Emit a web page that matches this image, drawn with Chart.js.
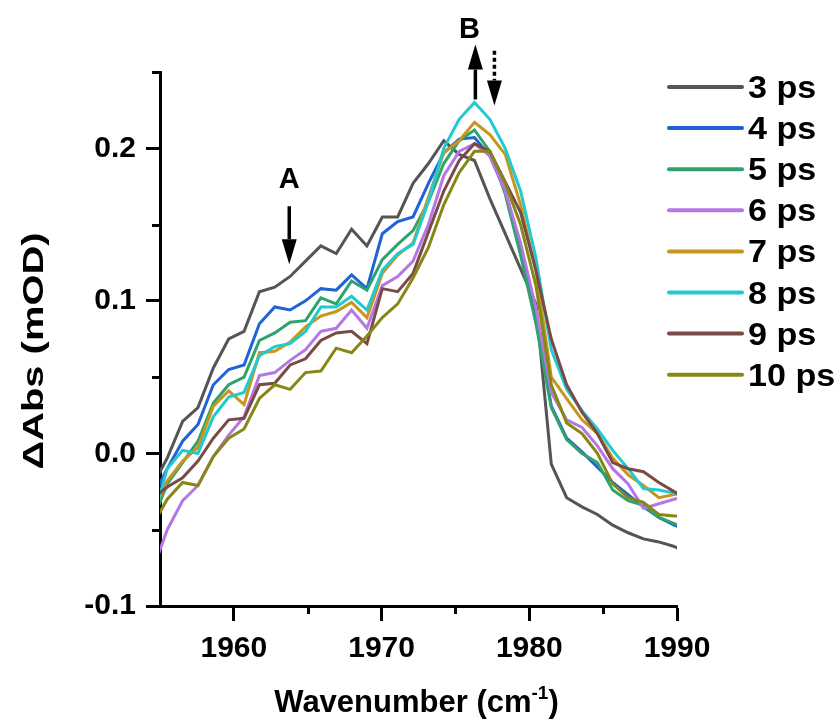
<!DOCTYPE html>
<html>
<head>
<meta charset="utf-8">
<title>Transient IR spectra</title>
<script src="https://cdn.jsdelivr.net/npm/chart.js@4.4.1/dist/chart.umd.min.js"></script>
<style>
  html, body { margin: 0; padding: 0; background: #fff; }
  #wrap { width: 839px; height: 724px; }
</style>
</head>
<body>
<div id="wrap"><canvas id="spectra" width="839" height="724"></canvas></div>
<script>
// ===========================
// DATA
// ===========================
const wavenumbers = [
  1954.45, 1955.49, 1956.53, 1957.57, 1958.61, 1959.65, 1960.69, 1961.73, 1962.77,
  1963.81, 1964.85, 1965.89, 1966.93, 1967.97, 1969.01, 1970.05, 1971.09, 1972.13,
  1973.17, 1974.21, 1975.25, 1976.29, 1977.33, 1978.37, 1979.41, 1980.45, 1981.49,
  1982.53, 1983.57, 1984.61, 1985.65, 1986.69, 1987.73, 1988.77, 1989.81, 1990.85
];

const delays = ['3 ps', '4 ps', '5 ps', '6 ps', '7 ps', '8 ps', '9 ps', '10 ps'];

const abs3ps = [-0.022, -0.003, 0.021, 0.030, 0.056, 0.075, 0.080, 0.106, 0.109, 0.116, 0.126, 0.136,
  0.131, 0.147, 0.136, 0.155, 0.155, 0.177, 0.190, 0.205, 0.196, 0.192, 0.167, 0.144,
  0.121, 0.098, -0.007, -0.029, -0.035, -0.040, -0.047, -0.052, -0.056, -0.058, -0.061, -0.066];
const abs4ps = [-0.030, -0.010, 0.008, 0.019, 0.045, 0.055, 0.058, 0.085, 0.096, 0.094, 0.100, 0.108,
  0.107, 0.117, 0.108, 0.144, 0.152, 0.155, 0.177, 0.197, 0.206, 0.207, 0.195, 0.172,
  0.135, 0.090, 0.031, 0.010, 0.001, -0.009, -0.019, -0.027, -0.035, -0.042, -0.047, -0.051];
const abs5ps = [-0.045, -0.020, -0.006, 0.008, 0.033, 0.045, 0.050, 0.074, 0.079, 0.086, 0.087, 0.102,
  0.098, 0.113, 0.107, 0.127, 0.137, 0.146, 0.165, 0.190, 0.205, 0.212, 0.198, 0.170,
  0.130, 0.085, 0.030, 0.009, 0.000, -0.006, -0.024, -0.031, -0.034, -0.042, -0.046, -0.050];
const abs6ps = [-0.078, -0.050, -0.031, -0.021, -0.002, 0.012, 0.024, 0.051, 0.053, 0.061, 0.068, 0.080,
  0.082, 0.094, 0.082, 0.110, 0.116, 0.126, 0.150, 0.182, 0.198, 0.203, 0.195, 0.172,
  0.138, 0.095, 0.040, 0.022, 0.017, 0.005, -0.010, -0.020, -0.036, -0.033, -0.030, -0.028];
const abs7ps = [-0.040, -0.018, -0.005, 0.004, 0.031, 0.041, 0.032, 0.066, 0.067, 0.073, 0.083, 0.090,
  0.093, 0.099, 0.089, 0.118, 0.130, 0.138, 0.168, 0.197, 0.205, 0.217, 0.209, 0.196,
  0.163, 0.120, 0.050, 0.036, 0.022, 0.013, -0.003, -0.014, -0.021, -0.029, -0.027, -0.026];
const abs8ps = [-0.045, -0.010, 0.002, 0.000, 0.024, 0.037, 0.040, 0.064, 0.070, 0.072, 0.080, 0.096,
  0.096, 0.103, 0.094, 0.120, 0.131, 0.137, 0.165, 0.200, 0.219, 0.230, 0.219, 0.200,
  0.172, 0.128, 0.068, 0.042, 0.028, 0.016, 0.002, -0.010, -0.023, -0.024, -0.026, -0.028];
const abs9ps = [-0.030, -0.022, -0.016, -0.005, 0.010, 0.022, 0.023, 0.045, 0.046, 0.058, 0.062, 0.074,
  0.079, 0.080, 0.072, 0.108, 0.106, 0.118, 0.145, 0.172, 0.192, 0.203, 0.198, 0.178,
  0.158, 0.120, 0.075, 0.045, 0.027, 0.013, -0.006, -0.010, -0.012, -0.019, -0.025, -0.030];
const abs10ps = [-0.048, -0.030, -0.019, -0.021, -0.002, 0.010, 0.016, 0.036, 0.045, 0.042, 0.053, 0.054,
  0.069, 0.066, 0.077, 0.089, 0.098, 0.115, 0.135, 0.163, 0.184, 0.198, 0.198, 0.177,
  0.150, 0.110, 0.045, 0.020, 0.013, 0.000, -0.020, -0.029, -0.032, -0.040, -0.041, -0.041];

const xTicks = [1960, 1970, 1980, 1990];
const xMinorTicks = [1965, 1975, 1985];
const yTicks = [-0.1, 0.0, 0.1, 0.2];
const yMinorTicks = [-0.05, 0.05, 0.15, 0.25];

// ===========================
// STYLE
// ===========================
const FONT = "'Liberation Sans', Arial, sans-serif";
const colors = ['#555555', '#1f63d6', '#2ea36c', '#b477e3', '#c8961a', '#22c9cf', '#7a4a47', '#878716'];
const series = [abs3ps, abs4ps, abs5ps, abs6ps, abs7ps, abs8ps, abs9ps, abs10ps];

const datasets = series.map((vals, i) => ({
  label: delays[i],
  data: vals.map((v, k) => ({ x: wavenumbers[k], y: v })),
  borderColor: colors[i],
  backgroundColor: colors[i],
  borderWidth: 3,
  pointRadius: 0,
  tension: 0,
  order: -i
}));

// minor ticks, axis titles, legend and A/B arrows
const extrasPlugin = {
  id: 'extras',
  afterDraw(chart) {
    const { ctx, chartArea: ca, scales: { x, y } } = chart;
    ctx.save();
    ctx.strokeStyle = '#000';
    ctx.fillStyle = '#000';
    ctx.lineWidth = 3;

    // minor ticks
    xMinorTicks.forEach(v => {
      const px = Math.round(x.getPixelForValue(v)) + 0.5;
      ctx.beginPath(); ctx.moveTo(px, ca.bottom); ctx.lineTo(px, ca.bottom + 8); ctx.stroke();
    });
    yMinorTicks.forEach(v => {
      const py = Math.round(y.getPixelForValue(v)) + 0.5;
      ctx.beginPath(); ctx.moveTo(ca.left, py); ctx.lineTo(ca.left - 8, py); ctx.stroke();
    });

    // x title with superscript
    const big = 'bold 31px ' + FONT, small = 'bold 19px ' + FONT;
    ctx.font = big;
    const p1 = 'Wavenumber (cm', p3 = ')';
    const w1 = ctx.measureText(p1).width, w3 = ctx.measureText(p3).width;
    ctx.font = small;
    const w2 = ctx.measureText('-1').width;
    let tx = (ca.left + ca.right) / 2 - (w1 + w2 + w3) / 2 - 2;
    const ty = 712;
    ctx.textBaseline = 'alphabetic';
    ctx.textAlign = 'left';
    ctx.font = big; ctx.fillText(p1, tx, ty); tx += w1;
    ctx.font = small; ctx.fillText('-1', tx, ty - 13); tx += w2;
    ctx.font = big; ctx.fillText(p3, tx, ty);

    // y title (stretched along its length like the original)
    ctx.save();
    ctx.translate(43, 351);
    ctx.rotate(-Math.PI / 2);
    ctx.scale(1.33, 1);
    ctx.font = 'bold 30px ' + FONT;
    ctx.textAlign = 'center';
    ctx.textBaseline = 'alphabetic';
    ctx.fillText('\u0394Abs (mOD)', 0, 0);
    ctx.restore();

    // legend
    chart.data.datasets.forEach((ds, i) => {
      const ly = 87 + i * 41.1;
      ctx.strokeStyle = ds.borderColor;
      ctx.lineWidth = 4;
      ctx.lineCap = 'round';
      ctx.beginPath(); ctx.moveTo(669, ly); ctx.lineTo(742, ly); ctx.stroke();
      ctx.save();
      ctx.translate(748, ly + 11);
      ctx.scale(1.1, 1);
      ctx.fillStyle = '#000';
      ctx.font = 'bold 31px ' + FONT;
      ctx.textAlign = 'left';
      ctx.fillText(ds.label, 0, 0);
      ctx.restore();
    });
    ctx.lineCap = 'butt';

    // annotation arrows
    const arrow = (xv, y0v, y1v, dashed) => {
      const px = x.getPixelForValue(xv);
      const p0 = y.getPixelForValue(y0v), p1 = y.getPixelForValue(y1v);
      const dir = Math.sign(p1 - p0);
      const headLen = 25, headW = 7.5;
      ctx.strokeStyle = '#000';
      ctx.fillStyle = '#000';
      ctx.lineWidth = 3.5;
      ctx.setLineDash(dashed ? [4, 3] : []);
      ctx.beginPath(); ctx.moveTo(px, p0); ctx.lineTo(px, p1 - dir * headLen); ctx.stroke();
      ctx.setLineDash([]);
      ctx.beginPath();
      ctx.moveTo(px, p1);
      ctx.lineTo(px - headW, p1 - dir * headLen);
      ctx.lineTo(px + headW, p1 - dir * headLen);
      ctx.closePath(); ctx.fill();
    };
    arrow(1963.75, 0.162, 0.124, false);
    arrow(1976.35, 0.232, 0.268, false);
    arrow(1977.64, 0.264, 0.228, true);

    ctx.font = 'bold 29px ' + FONT;
    ctx.textAlign = 'center';
    ctx.textBaseline = 'middle';
    ctx.fillText('A', x.getPixelForValue(1963.75), y.getPixelForValue(0.180) + 1);
    ctx.fillText('B', x.getPixelForValue(1975.95), y.getPixelForValue(0.278) + 1);
    ctx.restore();
  }
};

// ===========================
// CHART
// ===========================
const tickFont = { family: FONT, size: 30, weight: 'bold' };

new Chart(document.getElementById('spectra').getContext('2d'), {
  type: 'line',
  data: { datasets },
  options: {
    responsive: false,
    animation: false,
    layout: { padding: { top: 72, right: 162, left: 0, bottom: 0 } },
    plugins: { legend: { display: false }, tooltip: { enabled: false } },
    scales: {
      x: {
        type: 'linear',
        min: 1955,
        max: 1990,
        afterBuildTicks: s => { s.ticks = xTicks.map(v => ({ value: v })); },
        afterFit: s => { s.height = 118; },
        grid: { display: true, drawOnChartArea: false, drawTicks: true, tickLength: 15, tickWidth: 3, tickColor: '#000' },
        border: { display: true, width: 3, color: '#000' },
        ticks: { color: '#000', font: tickFont, padding: 10, maxRotation: 0, autoSkip: false, callback: v => String(v) }
      },
      y: {
        type: 'linear',
        min: -0.1,
        max: 0.25,
        afterBuildTicks: s => { s.ticks = yTicks.map(v => ({ value: v })); },
        afterFit: s => { s.width = 160; },
        grid: { display: true, drawOnChartArea: false, drawTicks: true, tickLength: 14, tickWidth: 3, tickColor: '#000' },
        border: { display: true, width: 3, color: '#000' },
        ticks: { color: '#000', font: tickFont, padding: 10, autoSkip: false, callback: v => v.toFixed(1) }
      }
    }
  },
  plugins: [extrasPlugin]
});
</script>
</body>
</html>
